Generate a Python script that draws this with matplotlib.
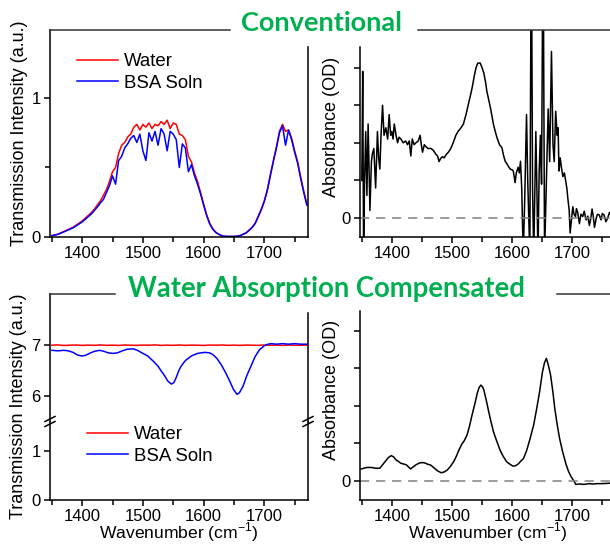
import matplotlib
matplotlib.use("Agg")
import matplotlib.pyplot as plt
from matplotlib.ticker import MultipleLocator, FixedLocator
from matplotlib.lines import Line2D

# ---- data ----
wn = list(range(1350, 1775, 5))

water_conv = [0.01, 0.015, 0.02, 0.03, 0.04, 0.05, 0.06, 0.07, 0.085, 0.10,
              0.115, 0.135, 0.155, 0.175, 0.20, 0.23, 0.26, 0.30, 0.34, 0.40,
              0.47, 0.50, 0.60, 0.66, 0.68, 0.72, 0.74, 0.79, 0.81, 0.77,
              0.81, 0.79, 0.82, 0.78, 0.81, 0.80, 0.83, 0.81, 0.84, 0.78,
              0.82, 0.81, 0.74, 0.73, 0.70, 0.58, 0.54, 0.46, 0.40, 0.32,
              0.24, 0.16, 0.10, 0.06, 0.035, 0.02, 0.01, 0.005, 0.004, 0.004,
              0.004, 0.006, 0.01, 0.02, 0.03, 0.05, 0.07, 0.10, 0.15, 0.20,
              0.26, 0.34, 0.45, 0.55, 0.65, 0.76, 0.81, 0.76, 0.77, 0.71,
              0.62, 0.54, 0.43, 0.33, 0.24]

bsa_conv = [0.01, 0.014, 0.019, 0.028, 0.037, 0.047, 0.056, 0.066, 0.08, 0.094,
            0.108, 0.127, 0.146, 0.165, 0.19, 0.215, 0.245, 0.27, 0.32, 0.37,
            0.44, 0.38, 0.55, 0.58, 0.64, 0.67, 0.71, 0.73, 0.68, 0.74,
            0.62, 0.55, 0.75, 0.69, 0.76, 0.66, 0.78, 0.74, 0.62, 0.76,
            0.74, 0.70, 0.50, 0.67, 0.64, 0.47, 0.52, 0.44, 0.38, 0.31,
            0.23, 0.155, 0.095, 0.057, 0.033, 0.019, 0.009, 0.005, 0.004, 0.004,
            0.004, 0.006, 0.01, 0.019, 0.029, 0.048, 0.068, 0.097, 0.145, 0.195,
            0.255, 0.335, 0.44, 0.545, 0.64, 0.75, 0.80, 0.66, 0.77, 0.70,
            0.61, 0.53, 0.42, 0.32, 0.23]

abs_conv_wn = [1350, 1351.5, 1353, 1354.5, 1356.5, 1358.5, 1360.5, 1363.5, 1366, 1367.5,
               1370, 1373, 1376, 1378, 1380, 1382, 1384.5, 1387, 1390, 1393,
               1395.5, 1398, 1400, 1402, 1404, 1407, 1409.5, 1412, 1415, 1419,
               1423, 1426, 1429, 1431.5, 1434, 1437, 1440, 1444, 1447, 1449,
               1451, 1454, 1456.5, 1460, 1465, 1469, 1473, 1476, 1478.5, 1481,
               1484, 1487, 1490, 1494, 1498, 1502, 1506.5, 1510, 1515, 1519,
               1523, 1527, 1531, 1534, 1537, 1540, 1543, 1547, 1550, 1553,
               1556, 1558, 1561, 1564, 1569, 1572, 1575, 1579, 1583, 1586,
               1588.5, 1591, 1594, 1597, 1600, 1602, 1605, 1607, 1610, 1612,
               1614, 1616, 1618.5, 1621, 1624, 1626, 1629.5, 1632, 1634, 1636,
               1639.5, 1641, 1643, 1645, 1647, 1649, 1651.5, 1654, 1657, 1660,
               1662.5, 1665.5, 1668, 1670, 1672.5, 1675, 1676.5, 1678, 1680, 1682,
               1684.5, 1687, 1689, 1691, 1693, 1695, 1696.5, 1699, 1701, 1703,
               1705.5, 1707, 1709, 1712, 1714.5, 1717.5, 1720, 1723, 1726, 1728.5,
               1731, 1733, 1735, 1737, 1740, 1742, 1745, 1748, 1750, 1753,
               1756, 1759, 1762, 1765, 1768, 1770]
abs_conv = [0.10, 0.39, -0.10, 0.09, 0.23, 0.06, 0.25, 0.02, 0.15, 0.17,
            0.185, 0.08, 0.23, 0.16, 0.13, 0.22, 0.30, 0.22, 0.24, 0.21,
            0.275, 0.22, 0.23, 0.21, 0.25, 0.22, 0.20, 0.215, 0.21, 0.20,
            0.205, 0.195, 0.205, 0.165, 0.21, 0.195, 0.20, 0.205, 0.22, 0.195,
            0.175, 0.195, 0.19, 0.185, 0.185, 0.18, 0.17, 0.165, 0.15, 0.158,
            0.163, 0.16, 0.168, 0.175, 0.185, 0.20, 0.22, 0.23, 0.24, 0.25,
            0.273, 0.30, 0.328, 0.35, 0.377, 0.40, 0.412, 0.412, 0.40, 0.385,
            0.36, 0.337, 0.315, 0.293, 0.249, 0.23, 0.213, 0.195, 0.187, 0.165,
            0.151, 0.145, 0.137, 0.13, 0.128, 0.125, 0.094, 0.12, 0.135, 0.12,
            0.151, 0.08, -0.10, 0.05, 0.275, 0.10, -0.10, 0.80, 0.08, -0.10,
            0.23, 0.10, -0.10, 0.12, 0.22, 0.09, 0.80, -0.10, 0.09, 0.29,
            0.15, 0.443, 0.196, 0.15, 0.284, 0.22, 0.24, 0.125, 0.16, 0.135,
            0.11, 0.12, 0.10, 0.08, 0.048, 0.02, -0.04, 0.0, 0.03, 0.01,
            0.004, 0.025, 0.016, -0.015, 0.01, 0.004, 0.018, -0.005, 0.005, -0.02,
            0.0, 0.024, 0.005, -0.025, 0.0, 0.01, 0.008, -0.005, 0.012, 0.008,
            -0.01, 0.0, 0.015, 0.005, -0.005, 0.01]

comp_wn = list(range(1350, 1780, 10))
water_comp = [7.00, 7.005, 6.995, 7.0, 7.004, 6.996, 7.002, 6.998, 7.005, 6.997,
              7.001, 6.996, 7.004, 7.0, 6.997, 7.003, 6.999, 7.006, 6.996, 7.001,
              6.998, 7.004, 6.997, 7.002, 7.0, 6.995, 7.003, 6.999, 7.004, 6.998,
              7.001, 6.996, 7.003, 7.0, 6.997, 7.004, 6.999, 7.002, 6.996, 7.003,
              7.0, 6.998, 7.002]

bsa_comp_wn = [1350, 1360, 1370, 1377, 1385, 1392, 1399, 1405, 1412, 1420,
               1429, 1436, 1443, 1451, 1458, 1466, 1474, 1484, 1491, 1500,
               1508, 1516, 1525, 1530, 1536, 1541, 1547, 1551, 1555, 1559,
               1563, 1570, 1580, 1590, 1602, 1610, 1616, 1622, 1629, 1636,
               1643, 1649, 1655, 1659, 1665, 1671, 1678, 1685, 1692, 1700,
               1706, 1712, 1720, 1730, 1740, 1750, 1760, 1770]
bsa_comp = [6.90, 6.89, 6.90, 6.89, 6.86, 6.81, 6.79, 6.80, 6.84, 6.88,
            6.90, 6.88, 6.85, 6.84, 6.85, 6.89, 6.92, 6.93, 6.90, 6.84,
            6.79, 6.70, 6.59, 6.50, 6.40, 6.30, 6.24, 6.27, 6.37, 6.50,
            6.59, 6.70, 6.79, 6.84, 6.86, 6.85, 6.81, 6.74, 6.62, 6.47,
            6.30, 6.14, 6.04, 6.07, 6.20, 6.40, 6.59, 6.78, 6.91, 6.99,
            7.02, 7.03, 7.02, 7.03, 7.02, 7.03, 7.02, 7.02]

abs_comp_wn = [1349, 1358, 1366, 1373, 1380, 1388, 1394, 1399, 1403, 1407,
               1411, 1415, 1420, 1424, 1428, 1431, 1435, 1440, 1446, 1451,
               1455, 1459, 1465, 1470, 1476, 1482, 1487, 1492, 1497, 1503,
               1507, 1511.5, 1516, 1520, 1525, 1529, 1533.5, 1538, 1542, 1545,
               1548, 1551, 1553, 1557, 1561, 1565, 1569, 1574, 1580, 1585,
               1591, 1597, 1601, 1605, 1610, 1614, 1619, 1624, 1630, 1636,
               1641, 1646, 1650.5, 1654, 1657, 1660, 1664, 1668, 1671, 1675,
               1679, 1684, 1690, 1694, 1698, 1702, 1706, 1712, 1720, 1728,
               1734, 1742, 1750, 1761, 1770]
abs_comp = [0.032, 0.036, 0.036, 0.034, 0.034, 0.050, 0.062, 0.0675, 0.064, 0.056,
            0.052, 0.047, 0.045, 0.043, 0.037, 0.032, 0.037, 0.043, 0.048, 0.049,
            0.048, 0.045, 0.042, 0.035, 0.027, 0.022, 0.024, 0.029, 0.038, 0.052,
            0.065, 0.082, 0.097, 0.106, 0.122, 0.145, 0.176, 0.205, 0.233, 0.248,
            0.255, 0.250, 0.242, 0.215, 0.185, 0.157, 0.131, 0.108, 0.082, 0.066,
            0.051, 0.044, 0.040, 0.040, 0.045, 0.052, 0.060, 0.080, 0.113, 0.150,
            0.193, 0.240, 0.290, 0.315, 0.326, 0.310, 0.282, 0.235, 0.193, 0.150,
            0.113, 0.078, 0.043, 0.025, 0.012, 0.002, -0.009, -0.008, -0.009, -0.007,
            -0.008, -0.007, -0.007, -0.006, -0.006]

x_ticks = [1400, 1500, 1600, 1700]

# ---- style ----
W, H = 610, 545
plt.rcParams['mathtext.fontset'] = 'custom'
plt.rcParams['mathtext.rm'] = 'Liberation Sans Narrow'
NARROW = ['Liberation Sans Narrow', 'Liberation Sans']
TICKFONT = 12.0
LW = 1.1
GREEN = '#00B050'
BOT = 500  # bottom row axis line, px from top

fig = plt.figure(figsize=(W / 100, H / 100), dpi=100)


def box(left, top, right, bottom):
    return [left / W, 1 - bottom / H, (right - left) / W, (bottom - top) / H]


def style_axes(ax, xaxis=True):
    for s in ax.spines.values():
        s.set_linewidth(LW)
    ax.spines['top'].set_visible(False)
    ax.tick_params(direction='out', width=LW, length=4.3, pad=2.5,
                   labelsize=TICKFONT, right=False, top=False)
    ax.tick_params(which='minor', direction='out', width=LW, length=3.3)
    for lab in ax.get_yticklabels():
        lab.set_family(NARROW)
    if xaxis:
        ax.set_xlim(1347, 1772)
        ax.xaxis.set_major_locator(FixedLocator(x_ticks))
        ax.xaxis.set_minor_locator(MultipleLocator(50))
        for lab in ax.get_xticklabels():
            lab.set_family(NARROW)


# ---- top left: conventional transmission ----
ax1 = fig.add_axes(box(50, 30, 308, 237))
l_w, = ax1.plot(wn, water_conv, color='#FF0000', lw=LW, label='Water')
l_b, = ax1.plot(wn, bsa_conv, color='#0000FF', lw=LW, label='BSA Soln')
ax1.set_ylim(0, 1.489)
ax1.set_yticks([0, 1])
ax1.set_yticklabels(['0', '1'])
ax1.yaxis.set_minor_locator(FixedLocator([0.5]))
style_axes(ax1)
ax1.spines['right'].set_bounds(0, 1.367)
ax1.legend(handles=[l_w, l_b], loc='upper left', bbox_to_anchor=(77 / W, 1 - 53 / H),
           bbox_transform=fig.transFigure, frameon=False, borderpad=0, borderaxespad=0,
           handlelength=2.2, handletextpad=0.3, labelspacing=0.25,
           prop={'family': 'Liberation Sans', 'size': 13.4})

# ---- top right: conventional absorbance ----
ax2 = fig.add_axes(box(360, 30, 615.5, 237))
ax2.plot(abs_conv_wn, abs_conv, color='black', lw=LW)
ax2.axhline(0, color='#808080', lw=LW, dashes=(6, 4.5))
ax2.set_ylim(-0.0505, 0.50)
ax2.set_yticks([0, 0.1, 0.2, 0.3, 0.4])
ax2.set_yticklabels(['0', '', '', '', ''])
style_axes(ax2)
ax2.spines['right'].set_visible(False)
ax2.spines['left'].set_bounds(-0.0505, 0.456)

# ---- bottom left: compensated transmission (broken axis) ----
ax3u = fig.add_axes(box(50, 294, 308, 422))
ax3l = fig.add_axes(box(50, 422, 308, BOT))
lw_c, = ax3u.plot(comp_wn, water_comp, color='#FF0000', lw=LW, label='Water')
lb_c, = ax3u.plot(bsa_comp_wn, bsa_comp, color='#0000FF', lw=LW, label='BSA Soln')
ax3u.set_ylim(5.5, 8.0)
ax3u.set_yticks([6, 7])
ax3u.set_yticklabels(['6', '7'])
style_axes(ax3u)
ax3u.set_xlim(1347, 1772)
ax3u.set_xticks([])
ax3u.spines['bottom'].set_visible(False)
ax3u.spines['right'].set_bounds(5.5, 7.63)

ax3l.set_ylim(0, 1.58)
ax3l.set_yticks([0, 1])
ax3l.set_yticklabels(['0', '1'])
style_axes(ax3l)
ax3l.legend(handles=[lw_c, lb_c], loc='upper left', bbox_to_anchor=(87 / W, 1 - 426 / H),
            bbox_transform=fig.transFigure, frameon=False, borderpad=0, borderaxespad=0,
            handlelength=2.2, handletextpad=0.3, labelspacing=0.25,
            prop={'family': 'Liberation Sans', 'size': 13.4})

# break marks on both spines
for xb in (50, 308):
    for yb in (419, 424):
        fig.add_artist(Line2D([(xb - 5) / W, (xb + 5) / W],
                              [1 - (yb + 2.5) / H, 1 - (yb - 2.5) / H],
                              color='black', lw=LW))

# ---- bottom right: compensated absorbance ----
ax4 = fig.add_axes(box(360, 311, 615.5, BOT))
ax4.plot(abs_comp_wn, abs_comp, color='black', lw=LW)
ax4.axhline(0, color='#808080', lw=LW, dashes=(6, 4.5))
ax4.set_ylim(-0.0505, 0.452)
ax4.set_yticks([0, 0.1, 0.2, 0.3, 0.4])
ax4.set_yticklabels(['0', '', '', '', ''])
style_axes(ax4)
ax4.spines['right'].set_visible(False)

# ---- axis labels ----
ylab = dict(rotation=90, ha='center', va='center', family='Liberation Sans', size=13)
fig.text(20 / W, 1 - 133 / H, 'Transmission Intensity (a.u.)', **ylab)
fig.text(332 / W, 1 - 127 / H, 'Absorbance (OD)', **ylab)
fig.text(19 / W, 1 - 406 / H, 'Transmission Intensity (a.u.)', **ylab)
fig.text(331 / W, 1 - 390 / H, 'Absorbance (OD)', **ylab)
xlab = r'Wavenumber (cm$^{\mathregular{-1}}$)'
fig.text(179 / W, 1 - 544 / H, xlab, ha='center', va='bottom', family=NARROW, size=12.6)
fig.text(488 / W, 1 - 544 / H, xlab, ha='center', va='bottom', family=NARROW, size=12.6)

# ---- section titles with rules ----
fig.text(322 / W, 1 - 23 / H, 'Conventional', ha='center', va='center',
         family='Lato', weight='bold', size=19.5, color=GREEN)
fig.text(326 / W, 1 - 289 / H, 'Water Absorption Compensated', ha='center', va='center',
         family='Lato', weight='bold', size=19.8, color=GREEN)
for x0, x1, yy in [(50, 230, 30), (418, 610, 30), (50, 115, 294), (557, 610, 294)]:
    fig.add_artist(Line2D([x0 / W, x1 / W], [1 - yy / H, 1 - yy / H],
                          color='#333333', lw=LW))

fig.savefig('out.png', dpi=100)
